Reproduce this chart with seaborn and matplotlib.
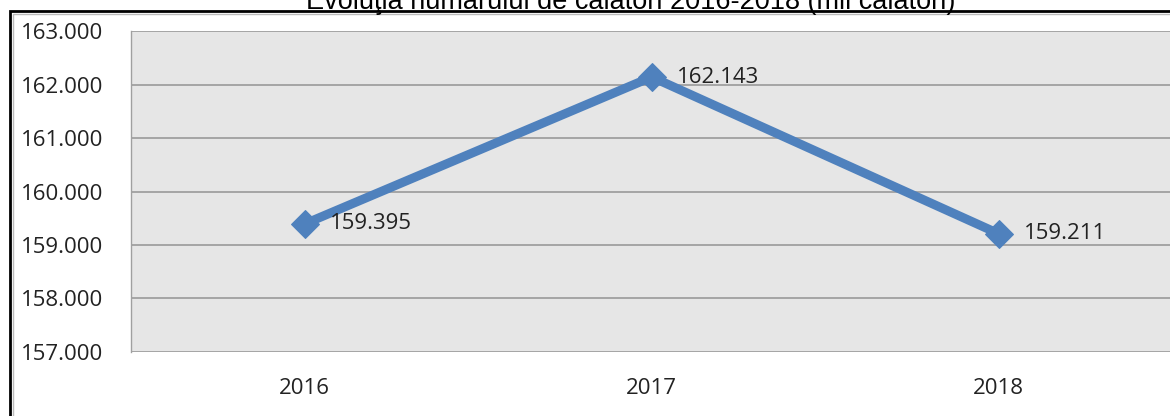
import matplotlib
matplotlib.use('Agg')
import matplotlib.pyplot as plt
import seaborn as sns
import pandas as pd
from matplotlib.patches import Rectangle
from matplotlib.ticker import FixedLocator

years = ['2016', '2017', '2018']
passengers = [159.395, 162.143, 159.211]
y_ticks = [157, 158, 159, 160, 161, 162, 163]
title = 'Evoluţia numărului de călători 2016-2018 (mil călători)'

df = pd.DataFrame({'an': years, 'calatori': passengers})

sns.set_style('white')
plt.rcParams['font.family'] = ['Open Sans', 'DejaVu Sans']

fig = plt.figure(figsize=(11.7, 4.16), dpi=100)
ax = fig.add_axes([0.112, 0.154, 0.89, 0.771])
ax.set_facecolor('#E6E6E6')

sns.lineplot(data=df, x='an', y='calatori', ax=ax, color='#4F81BD', linewidth=6.5,
             marker='D', markersize=14, markeredgecolor='#4F81BD', sort=False)

for i, v in enumerate(passengers):
    label = f'{v:.3f}'
    ax.annotate(label, (i, v), xytext=(18, 0), textcoords='offset points',
                va='center', ha='left', fontsize=16, color='#222222')

ax.set_xlim(-0.5, 2.5)
ax.set_ylim(157, 163)
ax.set_yticks(y_ticks)
ax.set_yticklabels([f'{t}.000' for t in y_ticks])
ax.yaxis.grid(True, color='#A0A0A0', linewidth=1.3)
ax.set_axisbelow(True)
ax.xaxis.set_minor_locator(FixedLocator([-0.5, 0.5, 1.5, 2.5]))
ax.tick_params(axis='x', which='major', length=0, pad=19, labelsize=16, colors='#222222')
ax.tick_params(axis='x', which='minor', length=7, width=1, color='#A0A0A0', direction='out')
ax.tick_params(axis='y', length=7, width=1, color='#A0A0A0', pad=13, labelsize=16,
               labelcolor='#222222')
ax.set_xlabel('')
ax.set_ylabel('')
for s in ['top', 'right', 'bottom']:
    ax.spines[s].set_visible(False)
ax.spines['left'].set_color('#A0A0A0')
ax.spines['left'].set_linewidth(1)

# outer chart frame (partly cut off)
fig.patches.append(Rectangle((10 / 1170, -0.1), 1.2, 1 - 11 / 416 + 0.1,
                             transform=fig.transFigure, fill=False,
                             edgecolor='black', linewidth=2))
fig.patches.append(Rectangle((13 / 1170, -0.1), 1.2, 1 - 14 / 416 + 0.1,
                             transform=fig.transFigure, fill=False,
                             edgecolor='#BBBBBB', linewidth=1))

# title sits mostly above the cropped image edge, as in the source
fig.text(631 / 1170, 1 - 9 / 416, title, ha='center', va='baseline', fontsize=19.5,
         family=['Liberation Sans', 'DejaVu Sans'], color='black')

fig.savefig('out.png', dpi=100)
